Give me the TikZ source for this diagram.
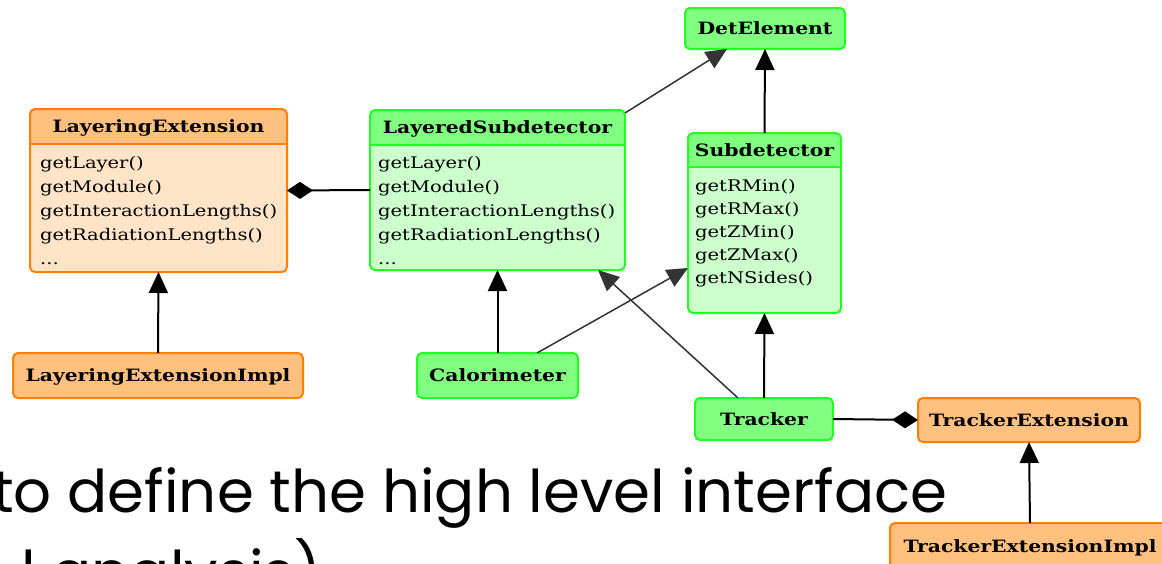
\documentclass[tikz,border=0pt]{standalone}
\usepackage{fontspec}
\usepackage{graphicx}
\newfontfamily\mfont{DejaVu Serif}
\newfontfamily\tfont{DejaVu Serif}
\newfontfamily\slidefont{Poppins}
\usetikzlibrary{arrows.meta}
\definecolor{orbd}{HTML}{FF8000}
\definecolor{orhd}{HTML}{FFC080}
\definecolor{orbg}{HTML}{FFE4C8}
\definecolor{grbd}{HTML}{22FF22}
\definecolor{grhd}{HTML}{80FF80}
\definecolor{grbg}{HTML}{CCFFCC}
\newsavebox\slideA
\newsavebox\mref
\newsavebox\tref
\newcommand\M[1]{\scalebox{\msx}[1]{#1}}
\newcommand\T[1]{\scalebox{\tsx}[1]{#1}}
\begin{document}
\sbox\slideA{\slidefont\fontsize{60}{72}\selectfont to define the high level interface}
\sbox\mref{\mfont\fontsize{16}{18}\selectfont getInteractionLengths()}
\sbox\tref{\tfont\bfseries\fontsize{17}{19}\selectfont LayeringExtension}
\begin{tikzpicture}[x=1pt,y=-1pt,
  box/.style={line width=2pt, rounded corners=5pt, inner sep=0pt, outer sep=0pt, anchor=north west,
    text height=12pt, text depth=0pt, font=\tfont\bfseries\fontsize{17}{19}\selectfont},
  orbox/.style={box, draw=orbd, fill=orhd},
  grbox/.style={box, draw=grbd, fill=grhd},
  orclass/.style={box, draw=orbd, fill=orbg, path picture={\fill[orhd] (path picture bounding box.north west) rectangle ([yshift=-#1]path picture bounding box.north east);}},
  grclass/.style={box, draw=grbd, fill=grbg, path picture={\fill[grhd] (path picture bounding box.north west) rectangle ([yshift=-#1]path picture bounding box.north east);}},
  title/.style={inner sep=0pt, text height=12pt, text depth=0pt, font=\tfont\bfseries\fontsize{17}{19}\selectfont},
  method/.style={inner sep=0pt, anchor=base west, font=\mfont\fontsize{16}{18}\selectfont},
  inherit/.style={line width=2pt, -{Triangle[length=21pt,width=19pt]}},
  diag/.style={line width=1.5pt, draw=black!80, -{Triangle[length=21pt,width=19pt]}},
  comp/.style={line width=2pt},
  slide/.style={inner sep=0pt, font=\slidefont\fontsize{60}{72}\selectfont}
]
\pgfmathsetmacro\sx{955/\the\wd\slideA}
\pgfmathsetmacro\sy{45/\the\ht\slideA}
\pgfmathsetmacro\msx{237/\the\wd\mref}
\pgfmathsetmacro\tsx{212/\the\wd\tref}
\fill[white] (0,0) rectangle (1162,563);
\useasboundingbox (0,0) rectangle (1162,563);
\clip (0,0) rectangle (1162,563);

% slide text behind
\node[slide, anchor=base west] (s1) at (-8,512) {\scalebox{\sx}[\sy]{to define the high level interface}};
\node[slide, anchor=base west] (s2) at (21,593) {\scalebox{\sx}[\sy]{l analysis)}};

% class boxes
\node[orclass=35pt, minimum width=257pt, minimum height=163pt] (le) at (30,109) {};
\draw[orbd, line width=2pt] ([yshift=-35pt]le.north west) -- ([yshift=-35pt]le.north east);
\node[title] (le-t) at ([yshift=-17pt]le.north) {\T{LayeringExtension}};
\node[method] (le-m1) at (40,168) {\M{getLayer()}};
\node[method] (le-m2) at (40,192) {\M{getModule()}};
\node[method] (le-m3) at (40,216) {\M{getInteractionLengths()}};
\node[method] (le-m4) at (40,240) {\M{getRadiationLengths()}};
\node[method] (le-m5) at (40,264) {\M{...}};

\node[grclass=35pt, minimum width=255pt, minimum height=160pt] (ls) at (370,110) {};
\draw[grbd, line width=2pt] ([yshift=-35pt]ls.north west) -- ([yshift=-35pt]ls.north east);
\node[title] (ls-t) at ([yshift=-17pt]ls.north) {\T{LayeredSubdetector}};
\node[method] (ls-m1) at (378,168) {\M{getLayer()}};
\node[method] (ls-m2) at (378,192) {\M{getModule()}};
\node[method] (ls-m3) at (378,216) {\M{getInteractionLengths()}};
\node[method] (ls-m4) at (378,240) {\M{getRadiationLengths()}};
\node[method] (ls-m5) at (378,264) {\M{...}};

\node[grclass=34pt, minimum width=153pt, minimum height=180pt] (sd) at (688,133) {};
\draw[grbd, line width=2pt] ([yshift=-34pt]sd.north west) -- ([yshift=-34pt]sd.north east);
\node[title] (sd-t) at ([yshift=-17pt]sd.north) {\T{Subdetector}};
\node[method] (sd-m1) at (695,191) {\M{getRMin()}};
\node[method] (sd-m2) at (695,214) {\M{getRMax()}};
\node[method] (sd-m3) at (695,237) {\M{getZMin()}};
\node[method] (sd-m4) at (695,260) {\M{getZMax()}};
\node[method] (sd-m5) at (695,283) {\M{getNSides()}};

% simple boxes
\node[grbox, minimum width=160pt, minimum height=41pt] (de) at (685,8) {\T{DetElement}};
\node[orbox, minimum width=290pt, minimum height=45pt] (lei) at (13,353) {\T{LayeringExtensionImpl}};
\node[grbox, minimum width=161pt, minimum height=45pt] (cal) at (417,353) {\T{Calorimeter}};
\node[grbox, minimum width=138pt, minimum height=42pt] (tr) at (695,398) {\T{Tracker}};
\node[orbox, minimum width=222pt, minimum height=44pt] (te) at (918,398) {\T{TrackerExtension}};
\node[orbox, minimum width=280pt, minimum height=46pt] (tei) at (890,523) {\T{TrackerExtensionImpl}};

% connectors
\draw[inherit] (lei.north) -- (le.south);
\draw[inherit] (cal.north) -- (ls.south);
\draw[diag] ([xshift=39.5pt]cal.north) -- ([yshift=-45pt]sd.west);
\draw[diag] ([xshift=-26pt]tr.north) -- ([xshift=-27pt]ls.south east);
\draw[inherit] (tr.north) -- (sd.south);
\draw[inherit] (sd.north) -- (de.south);
\draw[diag] ([yshift=-3pt]ls.north east) -- ([xshift=-38pt]de.south);
\draw[comp, {Diamond[length=26pt,width=17pt]}-] (le.east) -- (ls.west);
\draw[comp, -{Diamond[length=26pt,width=17pt]}] (tr.east) -- (te.west);
\draw[inherit] (tei.north) -- (te.south);
\end{tikzpicture}
\end{document}
